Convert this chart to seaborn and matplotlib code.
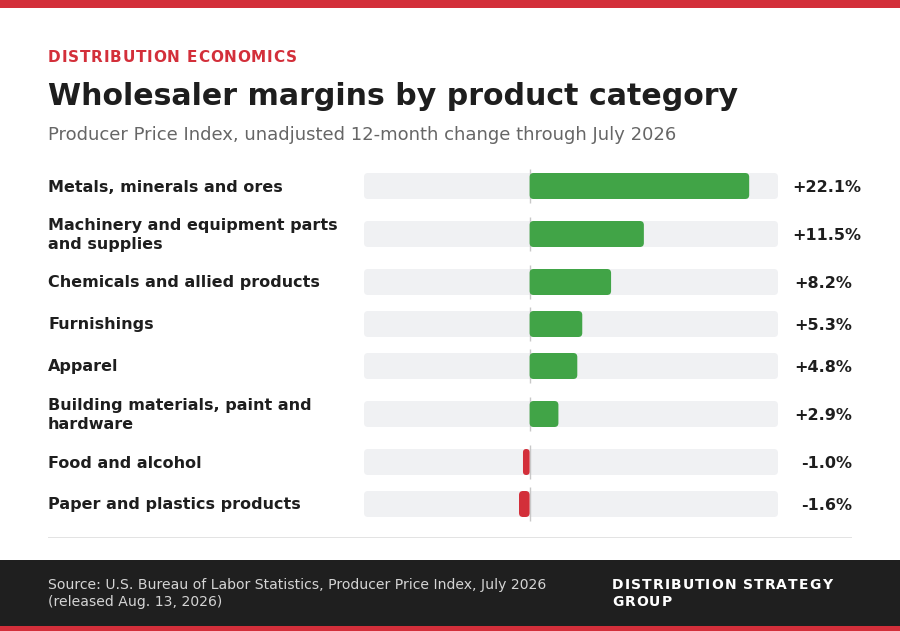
import numpy as np
import pandas as pd
import matplotlib
matplotlib.use("Agg")
import matplotlib.pyplot as plt
import seaborn as sns
from matplotlib.patches import FancyBboxPatch, Rectangle
from matplotlib.transforms import IdentityTransform
from matplotlib.font_manager import FontProperties, findfont
from matplotlib.ft2font import FT2Font

# ---------------- data ----------------
categories = [
    "Metals, minerals and ores",
    "Machinery and equipment parts\nand supplies",
    "Chemicals and allied products",
    "Furnishings",
    "Apparel",
    "Building materials, paint and\nhardware",
    "Food and alcohol",
    "Paper and plastics products",
]
values = [22.1, 11.5, 8.2, 5.3, 4.8, 2.9, -1.0, -1.6]
value_labels = ["+22.1%", "+11.5%", "+8.2%", "+5.3%", "+4.8%", "+2.9%", "-1.0%", "-1.6%"]

kicker = "DISTRIBUTION ECONOMICS"
title = "Wholesaler margins by product category"
subtitle = "Producer Price Index, unadjusted 12-month change through July 2026"
source_lines = ["Source: U.S. Bureau of Labor Statistics, Producer Price Index, July 2026",
                "(released Aug. 13, 2026)"]
brand_lines = ["DISTRIBUTION STRATEGY", "GROUP"]

# ---------------- style ----------------
RED = "#d32f3a"
GREEN = "#41a447"
TRACK = "#f0f1f3"
DARK = "#1f1f1f"
INK = "#1e1e1e"
GRAY = "#666666"

W, H = 900, 631
sns.set_theme(style="white")
plt.rcParams["font.family"] = ["DejaVu Sans"]

fig = plt.figure(figsize=(W / 100, H / 100), dpi=100)
fig.patch.set_facecolor("white")
ID = IdentityTransform()


def Y(py):
    return H - py


# bands
fig.add_artist(Rectangle((0, Y(8)), W, 8, transform=ID, color=RED, lw=0))
fig.add_artist(Rectangle((0, Y(626)), W, 66, transform=ID, color=DARK, lw=0))
fig.add_artist(Rectangle((0, 0), W, 5, transform=ID, color=RED, lw=0))
# divider
fig.add_artist(Rectangle((48, Y(537.5)), 804, 1, transform=ID, color="#e3e3e3", lw=0))


def advance_px(ch, size_pt, weight):
    f = FT2Font(findfont(FontProperties(family="DejaVu Sans", weight=weight)))
    f.set_size(size_pt, 100)
    g = f.load_char(ord(ch))
    return g.linearHoriAdvance / 65536.0


def spaced_text(x, yb, s, size, spacing, color, weight="bold"):
    cx = x
    for ch in s:
        if ch != " ":
            fig.text(cx, Y(yb), ch, transform=ID, ha="left", va="baseline",
                     fontsize=size, fontweight=weight, color=color)
        cx += advance_px(ch, size, weight) + spacing


# header
spaced_text(48, 62, kicker, 11, 0.8, RED)
fig.text(48, Y(105), title, transform=ID, ha="left", va="baseline",
         fontsize=21.65, fontweight="bold", color=INK)
fig.text(48, Y(140), subtitle, transform=ID, ha="left", va="baseline",
         fontsize=13, color=GRAY)

# footer
for i, line in enumerate(source_lines):
    fig.text(48, Y(589 + 17 * i), line, transform=ID, ha="left", va="baseline",
             fontsize=10.1, color="#d4d4d4")
for i, line in enumerate(brand_lines):
    spaced_text(612, 589 + 17 * i, line, 10, 1.1, "white")

# ---------------- rows ----------------
n_lines = [c.count("\n") + 1 for c in categories]
row_h = np.array([42 + 12 * (n - 1) for n in n_lines], dtype=float)
tops = 165 + np.concatenate([[0], np.cumsum(row_h)[:-1]])
centers = tops + row_h / 2
AX_TOP, AX_BOT = 165, 165 + row_h.sum()
X0, X1 = 364, 778

ax = fig.add_axes([X0 / W, 1 - AX_BOT / H, (X1 - X0) / W, (AX_BOT - AX_TOP) / H])


def fwd(x):
    x = np.asarray(x, dtype=float)
    return np.where(x < 0, x * 0.4 / 25, x * 0.6 / 25)


def inv(u):
    u = np.asarray(u, dtype=float)
    return np.where(u < 0, u * 25 / 0.4, u * 25 / 0.6)


ax.set_xscale("function", functions=(fwd, inv))

df = pd.DataFrame({
    "category": categories,
    "value": values,
    "ypos": centers,
    "sign": np.where(np.array(values) >= 0, "pos", "neg"),
})
sns.barplot(data=df, x="value", y="ypos", hue="sign", orient="h",
            palette={"pos": GREEN, "neg": RED}, native_scale=True, saturation=1,
            dodge=False, legend=False, width=26 / 42, ax=ax)

ax.set_xlim(-25, 25)
ax.set_ylim(AX_BOT, AX_TOP)
ax.patch.set_visible(False)
ax.set_axis_off()

# rounded bars (restyle seaborn's rectangles)
bars = list(ax.patches)
for p in bars:
    x0 = p.get_x()
    w = p.get_width()
    yc = p.get_y() + p.get_height() / 2
    (xa, ya) = ax.transData.transform((x0, yc))
    (xb, _) = ax.transData.transform((x0 + w, yc))
    fc = p.get_facecolor()
    p.remove()
    left, width = min(xa, xb), abs(xb - xa)
    r = min(4, width / 2)
    ax.add_patch(FancyBboxPatch((left, ya - 13), width, 26,
                                boxstyle=f"round,pad=0,rounding_size={r}",
                                transform=ID, fc=fc, ec="none", zorder=3, clip_on=False))

# tracks
for yc in centers:
    ax.add_patch(FancyBboxPatch((X0, Y(yc) - 13), X1 - X0, 26,
                                boxstyle="round,pad=0,rounding_size=4",
                                transform=ID, fc=TRACK, ec="none", zorder=1, clip_on=False))

# zero line
ax.vlines([0] * len(centers), centers - 17, centers + 17, color="#c8c8c8", lw=1, zorder=2)

# category labels
renderer = fig.canvas.get_renderer()
for cat, yc, n in zip(categories, centers, n_lines):
    for k, line in enumerate(cat.split("\n")):
        yb = yc + 5.5 + (k - (n - 1) / 2) * 18.5
        fig.text(48, Y(yb), line, transform=ID, ha="left", va="baseline",
                 fontsize=11.5, fontweight="bold", color=INK)

# value labels
for lab, yc in zip(value_labels, centers):
    t = fig.text(0, Y(yc + 5.5), lab, transform=ID, ha="left", va="baseline",
                 fontsize=11.5, fontweight="bold", color=INK)
    wpx = t.get_window_extent(renderer).width
    if wpx > 60:
        t.set_x(792)
    else:
        t.set_x(852 - wpx)

fig.savefig("out.png", dpi=100, facecolor="white")
